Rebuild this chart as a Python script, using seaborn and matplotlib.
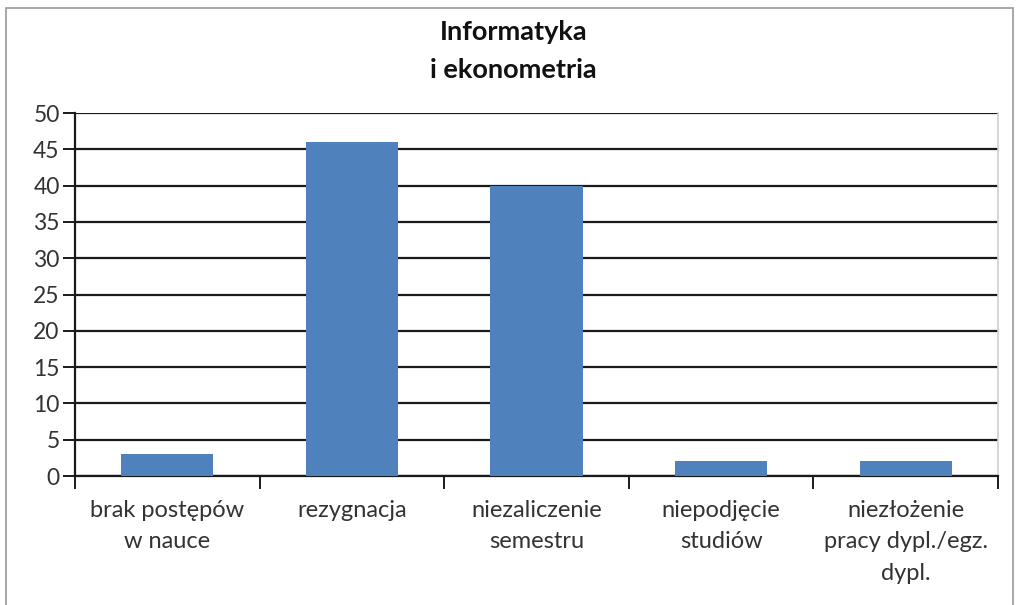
import matplotlib
matplotlib.use("Agg")
import matplotlib.pyplot as plt
import seaborn as sns
import pandas as pd
from matplotlib.patches import Rectangle

categories = ["brak postępów\nw nauce", "rezygnacja", "niezaliczenie\nsemestru",
              "niepodjęcie\nstudiów", "niezłożenie\npracy dypl./egz.\ndypl."]
values = [3, 46, 40, 2, 2]
yticks = list(range(0, 51, 5))
title = "Informatyka\ni ekonometria"

df = pd.DataFrame({"kategoria": categories, "liczba": values})

sns.set_style("white")
plt.rcParams["font.family"] = ["Lato", "DejaVu Sans"]

fig = plt.figure(figsize=(10.17, 6.05), dpi=100)
ax = fig.add_axes([0.0737, 0.2132, 0.9076, 0.6000])

sns.barplot(data=df, x="kategoria", y="liczba", color="#4f81bd", width=0.5,
            saturation=1, linewidth=0, ax=ax, zorder=3)

ax.set_ylim(0, 50)
ax.set_xlim(-0.5, len(categories) - 0.5)
ax.set_yticks(yticks)
ax.set_xlabel("")
ax.set_ylabel("")
ax.yaxis.grid(True, color="#1a1a1a", linewidth=1.6, zorder=0)
ax.set_axisbelow(True)

for s in ["left", "bottom"]:
    ax.spines[s].set_color("#1a1a1a")
    ax.spines[s].set_linewidth(1.6)
ax.spines["top"].set_visible(False)
ax.spines["right"].set_color("#d0d0d0")
ax.spines["right"].set_linewidth(1.2)

ax.tick_params(axis="y", length=9, width=1.4, color="#1a1a1a", labelsize=16.5,
               labelcolor="#333333", pad=2, left=True)
ax.tick_params(axis="x", which="major", length=0, labelsize=17,
               labelcolor="#333333", pad=17)
ax.set_xticks([i - 0.5 for i in range(len(categories) + 1)], minor=True)
ax.tick_params(axis="x", which="minor", length=9, width=1.4, color="#1a1a1a",
               bottom=True)
for lab in ax.get_xticklabels():
    lab.set_linespacing(1.62)

fig.text(0.505, 0.916, title, ha="center", va="center", fontsize=19.5,
         fontweight="bold", color="#111111", linespacing=1.7)

fig.patches.append(Rectangle((0.006, -0.02), 0.99, 1.006, transform=fig.transFigure,
                             fill=False, edgecolor="#9a9a9a", linewidth=1.2))

fig.savefig("out.png", dpi=100, facecolor="white")
